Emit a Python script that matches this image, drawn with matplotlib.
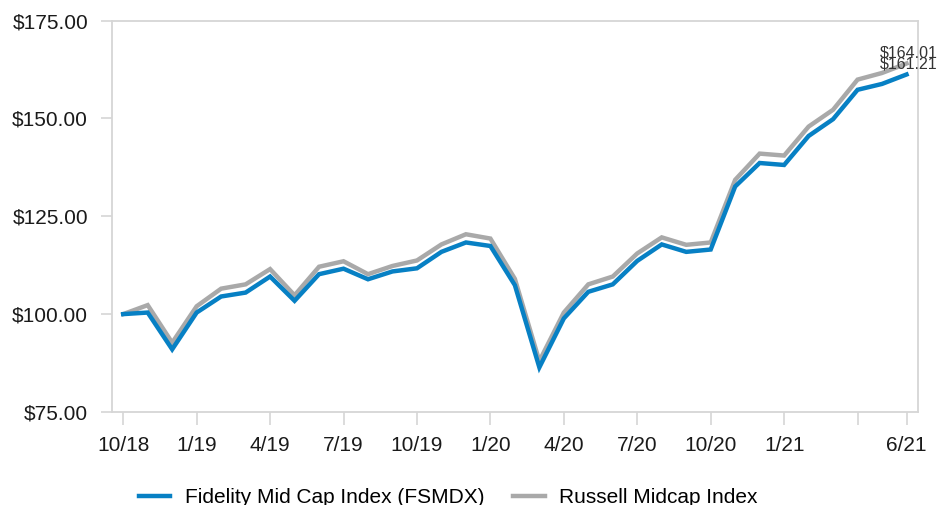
import matplotlib.pyplot as plt
import numpy as np

plt.rcParams['font.family'] = ['Liberation Sans', 'DejaVu Sans']

# Growth of $100, monthly from 10/18 to 6/21
fund_name = 'Fidelity Mid Cap Index (FSMDX)'
index_name = 'Russell Midcap Index'

fund_values = [100.0, 100.4, 91.0, 100.4, 104.5, 105.5, 109.6, 103.4, 110.2,
               111.6, 108.9, 110.9, 111.7, 115.9, 118.3, 117.4, 107.4, 86.4,
               98.9, 105.7, 107.6, 113.6, 117.8, 115.9, 116.5, 132.6, 138.6,
               138.1, 145.5, 149.8, 157.3, 158.8, 161.21]
index_values = [100.0, 102.3, 92.7, 102.0, 106.5, 107.6, 111.5, 104.8, 112.1,
                113.5, 110.2, 112.3, 113.7, 117.8, 120.4, 119.3, 109.0, 88.0,
                100.4, 107.6, 109.6, 115.5, 119.6, 117.7, 118.3, 134.3, 141.0,
                140.5, 147.9, 152.2, 159.9, 161.6, 164.01]

# month index of each x tick and its label (4/21 has no label)
tick_months = [0, 3, 6, 9, 12, 15, 18, 21, 24, 27, 30, 32]
tick_labels = ['10/18', '1/19', '4/19', '7/19', '10/19', '1/20', '4/20',
               '7/20', '10/20', '1/21', '', '6/21']
y_ticks = [75, 100, 125, 150, 175]

blue = '#0780c4'
grey = '#a9a9a9'
frame = '#d6d6d6'

x = np.arange(len(fund_values))

fig = plt.figure(figsize=(9.38, 5.05), dpi=100)
ax = fig.add_axes([0.1191, 0.1842, 0.8596, 0.7752])

ax.plot(x, index_values, color=grey, lw=3.2, label=index_name,
        solid_joinstyle='miter')
ax.plot(x, fund_values, color=blue, lw=3.2, label=fund_name,
        solid_joinstyle='miter')

# end value labels (they overlap in the original too)
ax.annotate(f'${index_values[-1]:.2f}', (x[-1], index_values[-1]),
            xytext=(1.5, 2), textcoords='offset points', ha='center',
            va='bottom', fontsize=11.5, color='#333333',
            annotation_clip=False)
ax.annotate(f'${fund_values[-1]:.2f}', (x[-1], fund_values[-1]),
            xytext=(1.5, 2), textcoords='offset points', ha='center',
            va='bottom', fontsize=11.5, color='#333333',
            annotation_clip=False)

ax.set_xlim(-0.47, len(x) - 1 + 0.47)
ax.set_ylim(75, 175)

ax.set_xticks(tick_months)
ax.set_xticklabels(tick_labels)
ax.set_yticks(y_ticks)
ax.set_yticklabels([f'${v:.2f}' for v in y_ticks])

ax.tick_params(axis='both', colors=frame, labelcolor='#1a1a1a',
               labelsize=15, width=1.2)
ax.tick_params(axis='y', length=8, pad=9)
ax.tick_params(axis='x', length=9, pad=8)

for side in ax.spines.values():
    side.set_color(frame)
    side.set_linewidth(1.3)

# legend at the bottom, fund first
handles, labels = ax.get_legend_handles_labels()
fig.legend(handles[::-1], labels[::-1], loc='center',
           bbox_to_anchor=(0.478, 0.014), ncol=2, frameon=False, fontsize=15,
           handlelength=1.5, handletextpad=0.7, columnspacing=1.4)

plt.savefig('out.png', dpi=100)
plt.close()
